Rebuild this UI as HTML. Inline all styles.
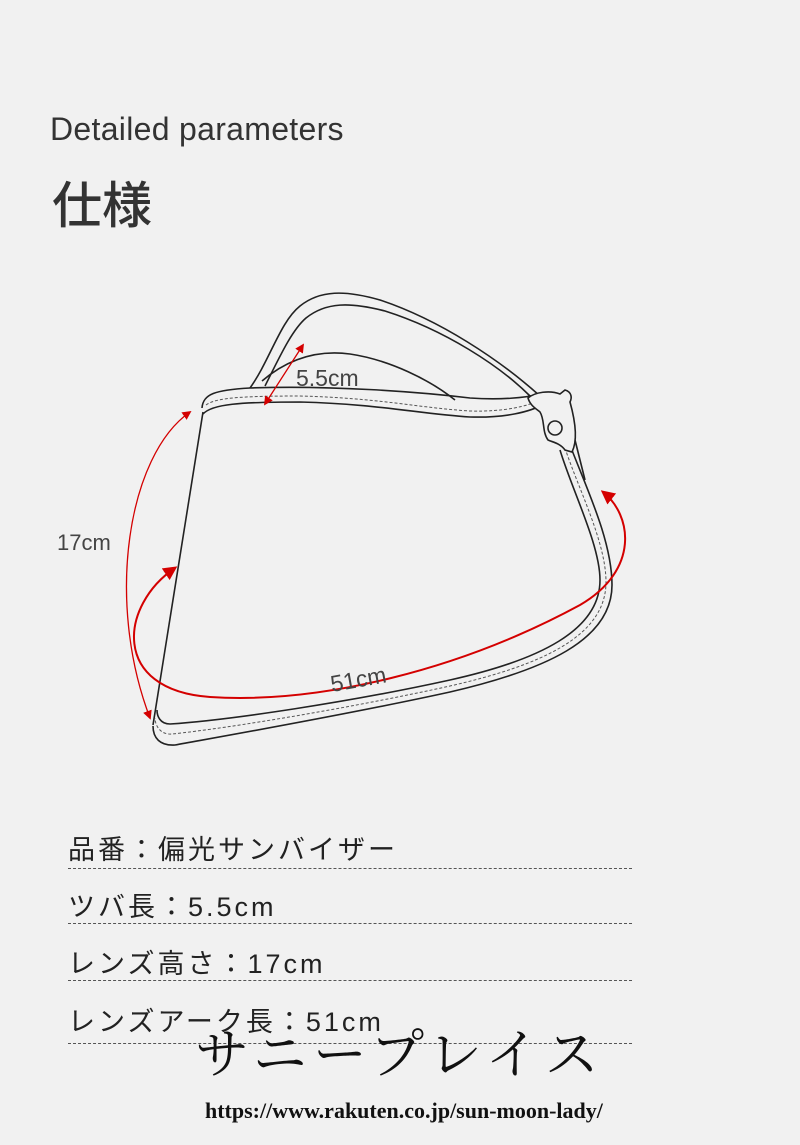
<!DOCTYPE html>
<html><head><meta charset="utf-8"><style>
html,body{margin:0;padding:0;background:#f1f1f1;}
#c{position:relative;width:800px;height:1145px;overflow:hidden;background:#f1f1f1;}
.t{position:absolute;white-space:nowrap;color:#222;}
.s{font:27px 'Liberation Sans','Noto Sans CJK JP',sans-serif;letter-spacing:3px;}
.ln{position:absolute;left:68px;width:564px;border-top:1px dashed #555;height:0;}
</style></head><body><div id="c">
<div class="t" style="left:50px;top:111px;font:32px 'Liberation Sans','Noto Sans CJK JP',sans-serif;letter-spacing:0.3px;color:#333;">Detailed parameters</div>
<div class="t" style="left:52px;top:166px;font:500 50px 'Liberation Sans','Noto Sans CJK JP',sans-serif;color:#333;">仕様</div>
<svg style="position:absolute;left:0;top:0" width="800" height="800" viewBox="0 0 800 800">
<defs>
<marker id="a" viewBox="0 0 10 10" refX="8" refY="5" markerWidth="7" markerHeight="7" orient="auto-start-reverse"><path d="M0,0 L10,5 L0,10 z" fill="#d40000"/></marker>
</defs>
<g fill="none" stroke="#222" stroke-width="1.6">
<path d="M250,388 C270,360 280,322 300,306 C320,290 345,290 380,300 C440,320 500,360 540,396"/>
<path d="M265,386 C280,356 292,330 306,318 C326,302 350,302 385,311 C445,330 500,366 530,396"/>
<path d="M262,381 C290,357 320,350 350,354 C390,360 430,380 455,400"/>
<path d="M202,408 C203,394 215,390 250,388 C330,385 420,392 470,398 C500,400 525,398 540,394"/>
<path d="M203,414 C212,404 240,402 300,402 C380,404 420,414 470,417 C505,418 530,412 544,404"/>
<path d="M206,405 C215,398 240,396 300,396 C380,398 420,408 470,411 C505,412 528,406 540,400" stroke="#555" stroke-width="1" stroke-dasharray="3,2"/>
<path d="M203,412 L153,725"/>
<path d="M570,445 C585,485 612,540 612,585 C612,640 545,670 450,692 C350,714 230,735 175,745 C160,746 153,738 153,726"/>
<path d="M560,450 C572,490 600,545 600,580 C600,630 540,660 450,680 C350,702 230,720 170,724 C160,724 157,716 157,710"/>
<path d="M565,448 C578,488 606,542 606,582 C606,636 542,665 450,686 C350,708 230,728 172,734 C160,735 155,725 155,718" stroke="#555" stroke-width="1" stroke-dasharray="3,2"/>
<path d="M575,440 C580,460 585,480 585,480"/>
<path d="M528,398 C535,392 550,390 560,394 L565,390 C572,392 572,398 570,402 C575,420 578,440 572,452 L565,450 C560,443 552,442 548,440 C542,432 545,420 540,412 C535,408 530,405 528,398 z" fill="#f1f1f1"/>
<circle cx="555" cy="428" r="7"/>
</g>
<g fill="none" stroke="#d40000">
<path d="M190,412 C128,455 105,600 150,718" stroke-width="1.3" marker-start="url(#a)" marker-end="url(#a)"/>
<path d="M175,568 C120,605 110,690 210,697 C320,704 460,670 580,605 C640,570 632,515 603,492" stroke-width="2" marker-start="url(#a)" marker-end="url(#a)"/>
<path d="M303,345 L265,404" stroke-width="1.3" marker-start="url(#a)" marker-end="url(#a)"/>
</g>
<g font-family="Liberation Sans, sans-serif" font-size="22" fill="#444">
<text x="57" y="550">17cm</text>
<text x="296" y="386" font-size="23">5.5cm</text>
<text x="332" y="692" font-size="23" transform="rotate(-10 332 692)">51cm</text>
</g>
</svg>
<div class="t s" style="left:68px;top:828px;">品番：偏光サンバイザー</div>
<div class="ln" style="top:868px"></div>
<div class="t s" style="left:68px;top:885px;">ツバ長：5.5cm</div>
<div class="ln" style="top:923px"></div>
<div class="t s" style="left:68px;top:942px;">レンズ高さ：17cm</div>
<div class="ln" style="top:980px"></div>
<div class="t s" style="left:68px;top:1000px;">レンズアーク長：51cm</div>
<div class="ln" style="top:1043px"></div>
<div class="t" style="left:195px;top:1012px;font:54px 'Noto Serif CJK SC',serif;color:#111;letter-spacing:6px;">サニープレイス</div>
<div class="t" style="left:205px;top:1098px;font:bold 22px 'Liberation Serif',serif;color:#111;">https://www.rakuten.co.jp/sun-moon-lady/</div>
</div></body></html>
